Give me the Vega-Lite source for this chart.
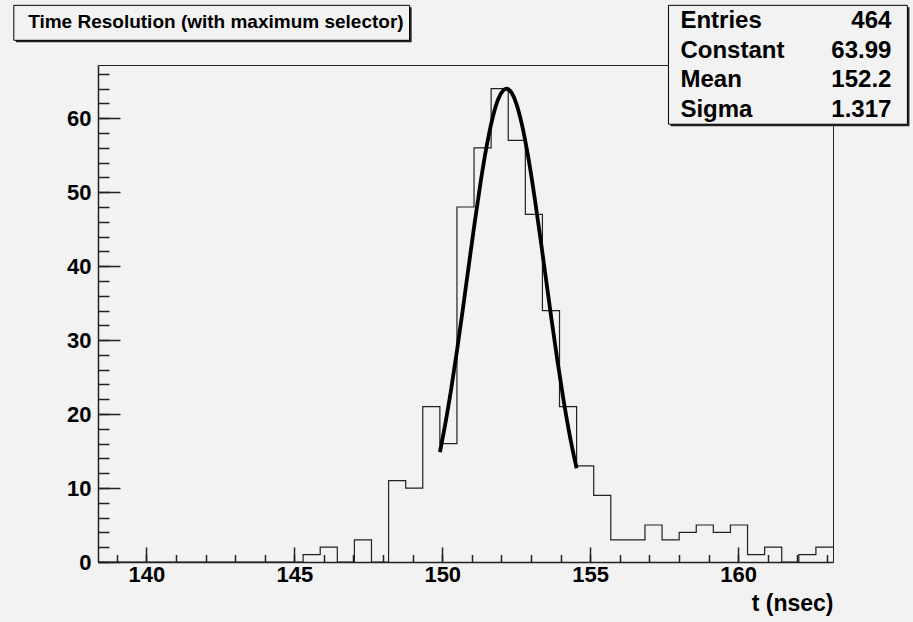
{
  "$schema": "https://vega.github.io/schema/vega-lite/v6.json",
  "width": 735,
  "height": 497,
  "autosize": "none",
  "padding": {"left": 98, "top": 65, "right": 80, "bottom": 60},
  "background": "#f2f2f2",
  "config": {
    "view": {"stroke": "#222", "strokeWidth": 1},
    "axis": {"grid": false, "tickColor": "#222", "tickWidth": 1.5, "domainColor": "#222", "domainWidth": 1.5, "labelFont": "Liberation Sans", "labelFontWeight": "bold", "labelFontSize": 22, "labelColor": "#000", "labelFlush": false, "labelOverlap": false}
  },
  "datasets": {
    "hist": [
      {"t": 138.365, "n": 0}, {"t": 138.943, "n": 0}, {"t": 139.520, "n": 0}, {"t": 140.098, "n": 0},
      {"t": 140.676, "n": 0}, {"t": 141.254, "n": 0}, {"t": 141.831, "n": 0}, {"t": 142.409, "n": 0},
      {"t": 142.987, "n": 0}, {"t": 143.564, "n": 0}, {"t": 144.142, "n": 0}, {"t": 144.720, "n": 0},
      {"t": 145.297, "n": 1}, {"t": 145.875, "n": 2}, {"t": 146.453, "n": 0}, {"t": 147.031, "n": 3},
      {"t": 147.608, "n": 0}, {"t": 148.186, "n": 11}, {"t": 148.764, "n": 10}, {"t": 149.341, "n": 21},
      {"t": 149.919, "n": 16}, {"t": 150.497, "n": 48}, {"t": 151.074, "n": 56}, {"t": 151.652, "n": 64},
      {"t": 152.230, "n": 57}, {"t": 152.808, "n": 47}, {"t": 153.385, "n": 34}, {"t": 153.963, "n": 21},
      {"t": 154.541, "n": 13}, {"t": 155.118, "n": 9}, {"t": 155.696, "n": 3}, {"t": 156.274, "n": 3},
      {"t": 156.851, "n": 5}, {"t": 157.429, "n": 3}, {"t": 158.007, "n": 4}, {"t": 158.585, "n": 5},
      {"t": 159.162, "n": 4}, {"t": 159.740, "n": 5}, {"t": 160.318, "n": 1}, {"t": 160.895, "n": 2},
      {"t": 161.473, "n": 0}, {"t": 162.051, "n": 1}, {"t": 162.628, "n": 2}, {"t": 163.206, "n": 2}
    ],
    "fit": [
      {"t": 149.92, "f": 14.87}, {"t": 150.1, "f": 18.61}, {"t": 150.3, "f": 23.35}, {"t": 150.5, "f": 28.64},
      {"t": 150.7, "f": 34.32}, {"t": 150.9, "f": 40.2}, {"t": 151.1, "f": 46.0}, {"t": 151.3, "f": 51.45},
      {"t": 151.5, "f": 56.22}, {"t": 151.7, "f": 60.04}, {"t": 151.9, "f": 62.66}, {"t": 152.05, "f": 63.73},
      {"t": 152.17, "f": 63.99}, {"t": 152.3, "f": 63.68}, {"t": 152.5, "f": 62.01}, {"t": 152.7, "f": 59.01},
      {"t": 152.9, "f": 54.88}, {"t": 153.1, "f": 49.87}, {"t": 153.3, "f": 44.28}, {"t": 153.5, "f": 38.43},
      {"t": 153.7, "f": 32.59}, {"t": 153.9, "f": 27.0}, {"t": 154.1, "f": 21.87}, {"t": 154.3, "f": 17.3},
      {"t": 154.54, "f": 12.68}
    ],
    "title": [{"title": "Time Resolution (with maximum selector)"}],
    "statsbox": [{"panel": "stats"}],
    "stats": [
      {"stat": "Entries", "value": "464"},
      {"stat": "Constant", "value": "63.99"},
      {"stat": "Mean", "value": "152.2"},
      {"stat": "Sigma", "value": "1.317"}
    ]
  },
  "layer": [
    {
      "layer": [
        {
          "data": {"name": "hist"},
          "mark": {"type": "line", "interpolate": "step-after", "color": "#222", "strokeWidth": 1.2},
          "encoding": {
            "x": {"field": "t", "type": "quantitative", "scale": {"domain": [138.365, 163.206], "nice": false, "zero": false},
              "axis": {"orient": "bottom", "values": [140, 145, 150, 155, 160], "tickSize": -15, "labelPadding": 17,
                "title": "t (nsec)", "titleAnchor": "end", "titleFont": "Liberation Sans", "titleFontWeight": "bold", "titleFontSize": 23, "titleColor": "#000", "titleBaseline": "alphabetic", "titleY": 48}},
            "y": {"field": "n", "type": "quantitative", "scale": {"domain": [0, 67.2], "nice": false, "zero": false},
              "axis": {"orient": "left", "values": [0, 10, 20, 30, 40, 50, 60], "tickSize": -22, "labelPadding": 29, "title": null}}
          }
        },
        {
          "data": {"name": "fit"},
          "mark": {"type": "line", "interpolate": "monotone", "color": "#000", "strokeWidth": 3.8},
          "encoding": {
            "x": {"field": "t", "type": "quantitative",
              "axis": {"orient": "bottom", "values": [139,140,141,142,143,144,145,146,147,148,149,150,151,152,153,154,155,156,157,158,159,160,161,162,163], "tickSize": -7.5, "labels": false, "domain": false, "title": null}},
            "y": {"field": "f", "type": "quantitative",
              "axis": {"orient": "left", "values": [0,2,4,6,8,10,12,14,16,18,20,22,24,26,28,30,32,34,36,38,40,42,44,46,48,50,52,54,56,58,60,62,64,66], "tickSize": -11, "labels": false, "domain": false, "title": null}}
          }
        },
        {
          "data": {"name": "title"},
          "mark": {"type": "rect", "fill": "#222"},
          "encoding": {"x": {"datum": 135.59, "axis": null}, "x2": {"datum": 148.965}, "y": {"datum": 75.0, "axis": null}, "y2": {"datum": 70.27}}
        },
        {
          "data": {"name": "title"},
          "mark": {"type": "rect", "fill": "#f2f2f2", "stroke": "#000", "strokeWidth": 1},
          "encoding": {"x": {"datum": 135.52, "axis": null}, "x2": {"datum": 148.895}, "y": {"datum": 75.27, "axis": null}, "y2": {"datum": 70.54}}
        },
        {
          "data": {"name": "title"},
          "mark": {"type": "text", "font": "Liberation Sans", "fontWeight": "bold", "fontSize": 19, "align": "center", "baseline": "middle", "color": "#000"},
          "encoding": {"x": {"datum": 142.35, "axis": null}, "y": {"datum": 72.97, "axis": null}, "text": {"field": "title"}}
        },
        {
          "data": {"name": "statsbox"},
          "mark": {"type": "rect", "fill": "#222"},
          "encoding": {"x": {"datum": 157.715, "axis": null}, "x2": {"datum": 165.79}, "y": {"datum": 75.0, "axis": null}, "y2": {"datum": 58.92}}
        },
        {
          "data": {"name": "statsbox"},
          "mark": {"type": "rect", "fill": "#f2f2f2", "stroke": "#000", "strokeWidth": 1},
          "encoding": {"x": {"datum": 157.645, "axis": null}, "x2": {"datum": 165.72}, "y": {"datum": 75.27, "axis": null}, "y2": {"datum": 59.19}}
        }
      ],
      "resolve": {"axis": {"x": "independent", "y": "independent"}}
    },
    {
      "data": {"name": "stats"},
      "mark": {"type": "text", "font": "Liberation Sans", "fontWeight": "bold", "fontSize": 24, "align": "left", "baseline": "middle", "color": "#000"},
      "encoding": {
        "x": {"datum": 158.05, "axis": null},
        "y": {"field": "stat", "type": "ordinal", "scale": {"type": "point", "domain": ["Entries", "Constant", "Mean", "Sigma"], "range": [-44, 45], "padding": 0}, "axis": null},
        "text": {"field": "stat"}
      }
    },
    {
      "data": {"name": "stats"},
      "mark": {"type": "text", "font": "Liberation Sans", "fontWeight": "bold", "fontSize": 24, "align": "right", "baseline": "middle", "color": "#000"},
      "encoding": {
        "x": {"datum": 165.18, "axis": null},
        "y": {"field": "stat", "type": "ordinal", "scale": {"type": "point", "domain": ["Entries", "Constant", "Mean", "Sigma"], "range": [-44, 45], "padding": 0}, "axis": null},
        "text": {"field": "value"}
      }
    }
  ],
  "resolve": {"scale": {"y": "independent"}, "axis": {"x": "independent", "y": "independent"}}
}
